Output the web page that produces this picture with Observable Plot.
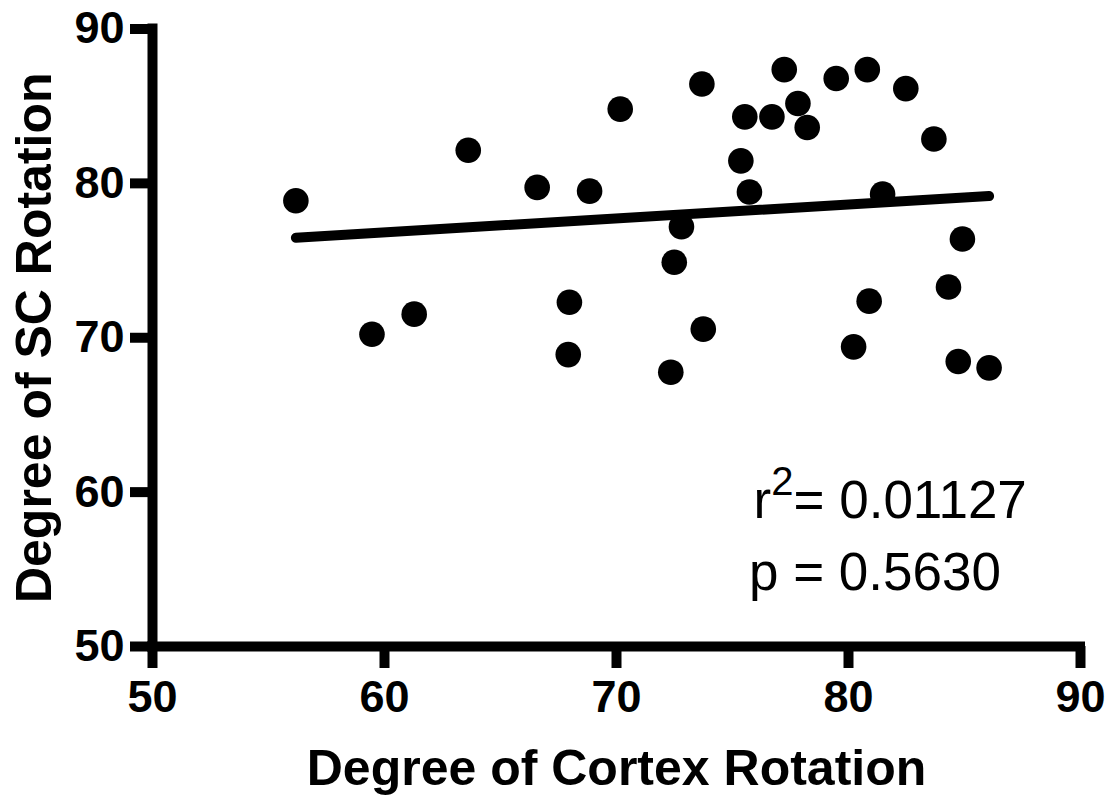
<!DOCTYPE html>
<html>
<head>
<meta charset="utf-8">
<script src="https://cdn.jsdelivr.net/npm/d3@7"></script>
<script src="https://cdn.jsdelivr.net/npm/@observablehq/plot@0.6"></script>
<style>
  html, body { margin: 0; padding: 0; background: #fff; }
  #chart svg { display: block; }
</style>
</head>
<body>
<div id="chart"></div>
<script>
// Degree of Cortex Rotation (x) vs Degree of SC Rotation (y)
const cortex = [56.18, 59.46, 61.28, 63.61, 66.58, 68.84, 70.16, 67.97, 67.92, 72.34,
                72.49, 72.80, 73.74, 73.68, 75.36, 75.53, 75.73, 76.70, 77.23, 77.82,
                78.22, 79.47, 80.81, 81.47, 80.89, 80.22, 82.47, 83.68, 84.91, 84.31,
                84.73, 86.06];
const sc     = [78.87, 70.23, 71.53, 82.15, 79.74, 79.50, 84.81, 72.30, 68.91, 67.77,
                74.89, 77.19, 70.56, 86.44, 81.46, 84.31, 79.44, 84.31, 87.37, 85.17,
                83.62, 86.79, 87.37, 79.31, 72.37, 69.41, 86.14, 82.87, 76.40, 73.29,
                68.46, 68.05];
const xTicks = [50, 60, 70, 80, 90];
const yTicks = [50, 60, 70, 80, 90];
const xTitle = "Degree of Cortex Rotation";
const yTitle = "Degree of SC Rotation";
const statLabels = ["r2= 0.01127", "p = 0.5630"];
const statX = [75.91, 75.71];
const statY = [58.33, 53.69];

const points = cortex.map((c, i) => ({x: c, y: sc[i]}));
const stats = statLabels.map((t, i) => ({text: t, x: statX[i], y: statY[i]}));

const font = "'Liberation Sans', Arial, Helvetica, sans-serif";

const chart = Plot.plot({
  width: 1112,
  height: 798,
  marginLeft: 152,
  marginRight: 32,
  marginTop: 28.5,
  marginBottom: 152,
  style: {fontFamily: font, background: "#fff", color: "#000", overflow: "visible"},
  x: {domain: [50, 90]},
  y: {domain: [50, 90]},
  marks: [
    Plot.ruleX([50], {y1: 50, y2: 90, stroke: "#000", strokeWidth: 10, strokeLinecap: "square"}),
    Plot.ruleY([50], {x1: 50, x2: 90, stroke: "#000", strokeWidth: 10, strokeLinecap: "square"}),
    Plot.axisX({ticks: xTicks, tickSize: 22, tickPadding: 12, strokeWidth: 10, fontSize: 45, fontWeight: "bold", label: null, tickFormat: d => String(d)}),
    Plot.axisY({ticks: yTicks, tickSize: 22, tickPadding: 6, strokeWidth: 10, fontSize: 45, fontWeight: "bold", label: null, tickFormat: d => String(d)}),
    Plot.linearRegressionY(points, {x: "x", y: "y", stroke: "#000", strokeWidth: 10, ci: 0}),
    Plot.dot(points, {x: "x", y: "y", r: 12.8, fill: "#000", stroke: "none"}),
    Plot.text(stats, {x: "x", y: "y", text: "text", textAnchor: "start", lineAnchor: "bottom", fontSize: 53, fill: "#000"}),
    Plot.text([xTitle], {frameAnchor: "bottom", textAnchor: "middle", dy: 138, lineAnchor: "bottom", fontSize: 50, fontWeight: "bold", fill: "#000"}),
    Plot.text([yTitle], {frameAnchor: "left", textAnchor: "middle", dx: -102, rotate: -90, lineAnchor: "bottom", fontSize: 50, fontWeight: "bold", fill: "#000"})
  ]
});

// render the r² superscript
d3.select(chart).selectAll("text").each(function() {
  if (this.textContent === statLabels[0]) {
    const t = d3.select(this);
    t.text(null);
    t.append("tspan").text("r");
    t.append("tspan").attr("dy", -23).attr("font-size", 40).text("2");
    t.append("tspan").attr("dy", 23).text("= 0.01127");
  }
});

document.getElementById("chart").appendChild(chart);
</script>
</body>
</html>
